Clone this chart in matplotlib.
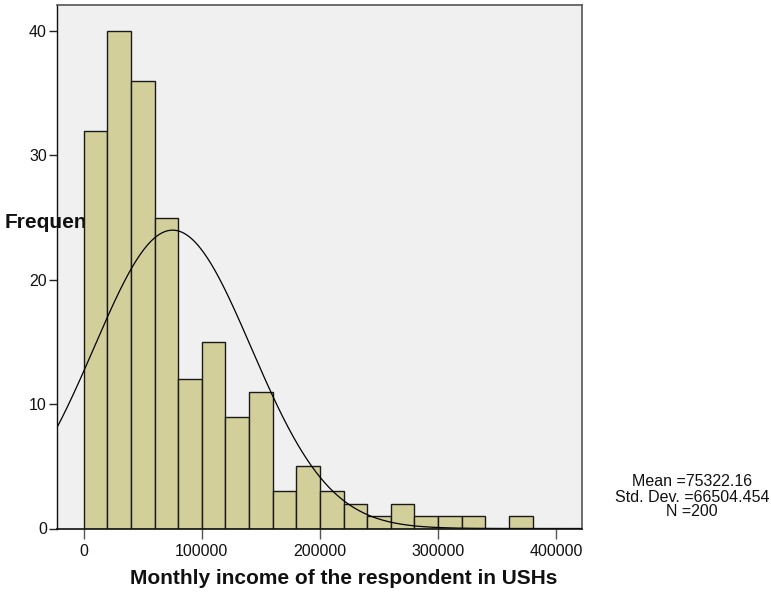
import numpy as np
import matplotlib
matplotlib.use("Agg")
import matplotlib.pyplot as plt

plt.rcParams['font.family'] = ['Liberation Sans', 'DejaVu Sans']

# Data
bin_edges_start = 0
bin_width = 20000
counts = [32, 40, 36, 25, 12, 15, 9, 11, 3, 5, 3, 2, 1, 2, 1, 1, 1, 0, 1]
mean_val = 75322.16
std_val = 66504.454
n_val = 200
x_ticks = [0, 100000, 200000, 300000, 400000]
y_ticks = [0, 10, 20, 30, 40]
x_label = "Monthly income of the respondent in USHs"
y_label = "Frequency"
stats_lines = ["Mean =75322.16", "Std. Dev. =66504.454", "N =200"]

W, H = 771, 593
PT = 72 / 100  # points per pixel
fig = plt.figure(figsize=(W / 100, H / 100), dpi=100)
ax = fig.add_axes([57.3 / W, 1 - 528.5 / H, (582 - 57.3) / W, (528.5 - 5) / H])
ax.set_facecolor('#F0F0F0')

lefts = [bin_edges_start + i * bin_width for i in range(len(counts))]
ax.bar(lefts, counts, width=bin_width, align='edge', color='#D3CF9B',
       edgecolor='#1a1a1a', linewidth=1.0, zorder=1)

xs = np.linspace(-23000, 422000, 600)
ys = n_val * bin_width / (std_val * np.sqrt(2 * np.pi)) * np.exp(-0.5 * ((xs - mean_val) / std_val) ** 2)
ax.plot(xs, ys, color='black', linewidth=0.9, zorder=2)

ax.set_xlim(-22300, 421900)
ax.set_ylim(0, 42.1)
ax.set_xticks(x_ticks)
ax.set_xticklabels([str(v) for v in x_ticks])
ax.set_yticks(y_ticks)
ax.set_yticklabels([str(v) for v in y_ticks])
ax.tick_params(axis='x', direction='out', length=10 * PT, width=1, color='#555555',
               labelsize=11.5, pad=5 * PT, labelcolor='#111111')
ax.tick_params(axis='y', direction='out', length=8 * PT, width=1, color='#222222',
               labelsize=11.5, pad=2.5 * PT, labelcolor='#111111')

for side in ['top', 'right']:
    ax.spines[side].set_color('#555555')
    ax.spines[side].set_linewidth(1.2)
ax.spines['left'].set_color('#111111')
ax.spines['bottom'].set_color('#111111')
ax.spines['left'].set_linewidth(1.0)
ax.spines['bottom'].set_linewidth(1.2)

# x label
fig.text(343.5 / W, 1 - 578 / H, x_label, ha='center', va='center',
         fontsize=15, fontweight='bold', color='#111111')

# y label (drawn under the bars)
ax.text(5 / W, 1 - 222 / H, y_label, transform=fig.transFigure, ha='left', va='center',
        fontsize=15, fontweight='bold', color='#111111', zorder=0.5, clip_on=False)

# stats box
for i, line in enumerate(stats_lines):
    fig.text(692 / W, 1 - (482 + 15 * i) / H, line, ha='center', va='center',
             fontsize=11.5, color='#111111')

fig.savefig('out.png', dpi=100)
